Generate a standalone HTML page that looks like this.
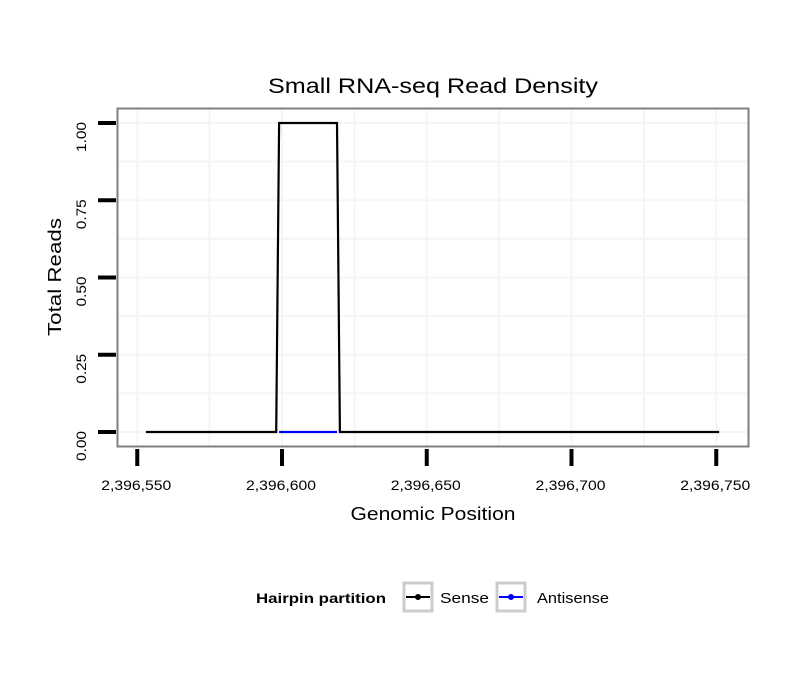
<!DOCTYPE html>
<html><head><meta charset="utf-8"><style>body{margin:0;background:#fff}svg{font-family:"Liberation Sans",sans-serif}</style></head>
<body>
<svg id="c" width="810" height="690">
<rect width="810" height="690" fill="#fff"/>
<g id="grid"></g>
<g id="series"></g>
<rect x="117.5" y="108.5" width="631" height="338" fill="none" stroke="#7f7f7f" stroke-width="2"/>
<g id="axes"></g>
<text x="433" y="93" font-size="21" text-anchor="middle" textLength="330" lengthAdjust="spacingAndGlyphs">Small RNA-seq Read Density</text>
<text x="433" y="520" font-size="18" text-anchor="middle" textLength="165" lengthAdjust="spacingAndGlyphs">Genomic Position</text>
<text transform="translate(61,277) rotate(-90)" font-size="18" text-anchor="middle" textLength="118" lengthAdjust="spacingAndGlyphs">Total Reads</text>
<g>
<text x="256" y="603" font-size="14" font-weight="bold" textLength="130" lengthAdjust="spacingAndGlyphs">Hairpin partition</text>
<g>
<rect x="404" y="583" width="28" height="28" fill="#fff" stroke="#ccc" stroke-width="3"/>
<line x1="406" y1="597" x2="430" y2="597" stroke="#000" stroke-width="2"/><circle cx="418" cy="597" r="3" fill="#000"/>
<text x="440" y="603" font-size="15" textLength="49" lengthAdjust="spacingAndGlyphs">Sense</text></g>
<g>
<rect x="497" y="583" width="28" height="28" fill="#fff" stroke="#ccc" stroke-width="3"/>
<line x1="499" y1="597" x2="523" y2="597" stroke="#0000ff" stroke-width="2"/><circle cx="511" cy="597" r="3" fill="#0000ff"/>
<text x="537" y="603" font-size="15" textLength="72" lengthAdjust="spacingAndGlyphs">Antisense</text></g>
</g>
</svg>
<script>
const xTicks=[2396550,2396600,2396650,2396700,2396750];
const xTickLabels=["2,396,550","2,396,600","2,396,650","2,396,700","2,396,750"];
const yTicks=[0,0.25,0.5,0.75,1];
const yTickLabels=["0.00","0.25","0.50","0.75","1.00"];
const senseX=[2396553,2396598,2396599,2396619,2396620,2396751];
const senseY=[0,0,1,1,0,0];
const antiX=[2396599,2396619];
const antiY=[0,0];
const NS="http://www.w3.org/2000/svg";
const sx=v=>282+(v-2396600)*2.895;
const sy=v=>432-v*309;
function mk(t,a,p){const e=document.createElementNS(NS,t);for(const k in a)e.setAttribute(k,a[k]);p.appendChild(e);return e;}
const grid=document.getElementById('grid'),axes=document.getElementById('axes'),ser=document.getElementById('series');
for(let v=2396550;v<=2396750;v+=25){const l=mk('line',{x1:sx(v),x2:sx(v),y1:109,y2:446,stroke:'#f5f5f5','stroke-width':2},grid);

}
for(let v=0;v<=1.01;v+=0.125){const l=mk('line',{x1:118,x2:748,y1:sy(v),y2:sy(v),stroke:'#f5f5f5','stroke-width':2},grid);

}
xTicks.forEach((v,i)=>{const t=mk('line',{x1:sx(v),x2:sx(v),y1:449,y2:466,stroke:'#000','stroke-width':4},axes);


const s=mk('text',{x:sx(v)-1,y:490,'font-size':14,'text-anchor':'middle',textLength:70,lengthAdjust:'spacingAndGlyphs'},axes);s.textContent=xTickLabels[i];

});
yTicks.forEach((v,i)=>{const t=mk('line',{x1:98,x2:116,y1:sy(v),y2:sy(v),stroke:'#000','stroke-width':4},axes);


const s=mk('text',{transform:`translate(86,${sy(v)+14}) rotate(-90)`,'font-size':14,'text-anchor':'middle',textLength:30,lengthAdjust:'spacingAndGlyphs'},axes);s.textContent=yTickLabels[i];

});
const p1=mk('polyline',{points:senseX.map((x,i)=>sx(x)+','+sy(senseY[i])).join(' '),fill:'none',stroke:'#000','stroke-width':2.2},ser);


const p2=mk('polyline',{points:antiX.map((x,i)=>sx(x)+','+sy(antiY[i])).join(' '),fill:'none',stroke:'#0000ff','stroke-width':2.2},ser);


</script>
</body></html>
